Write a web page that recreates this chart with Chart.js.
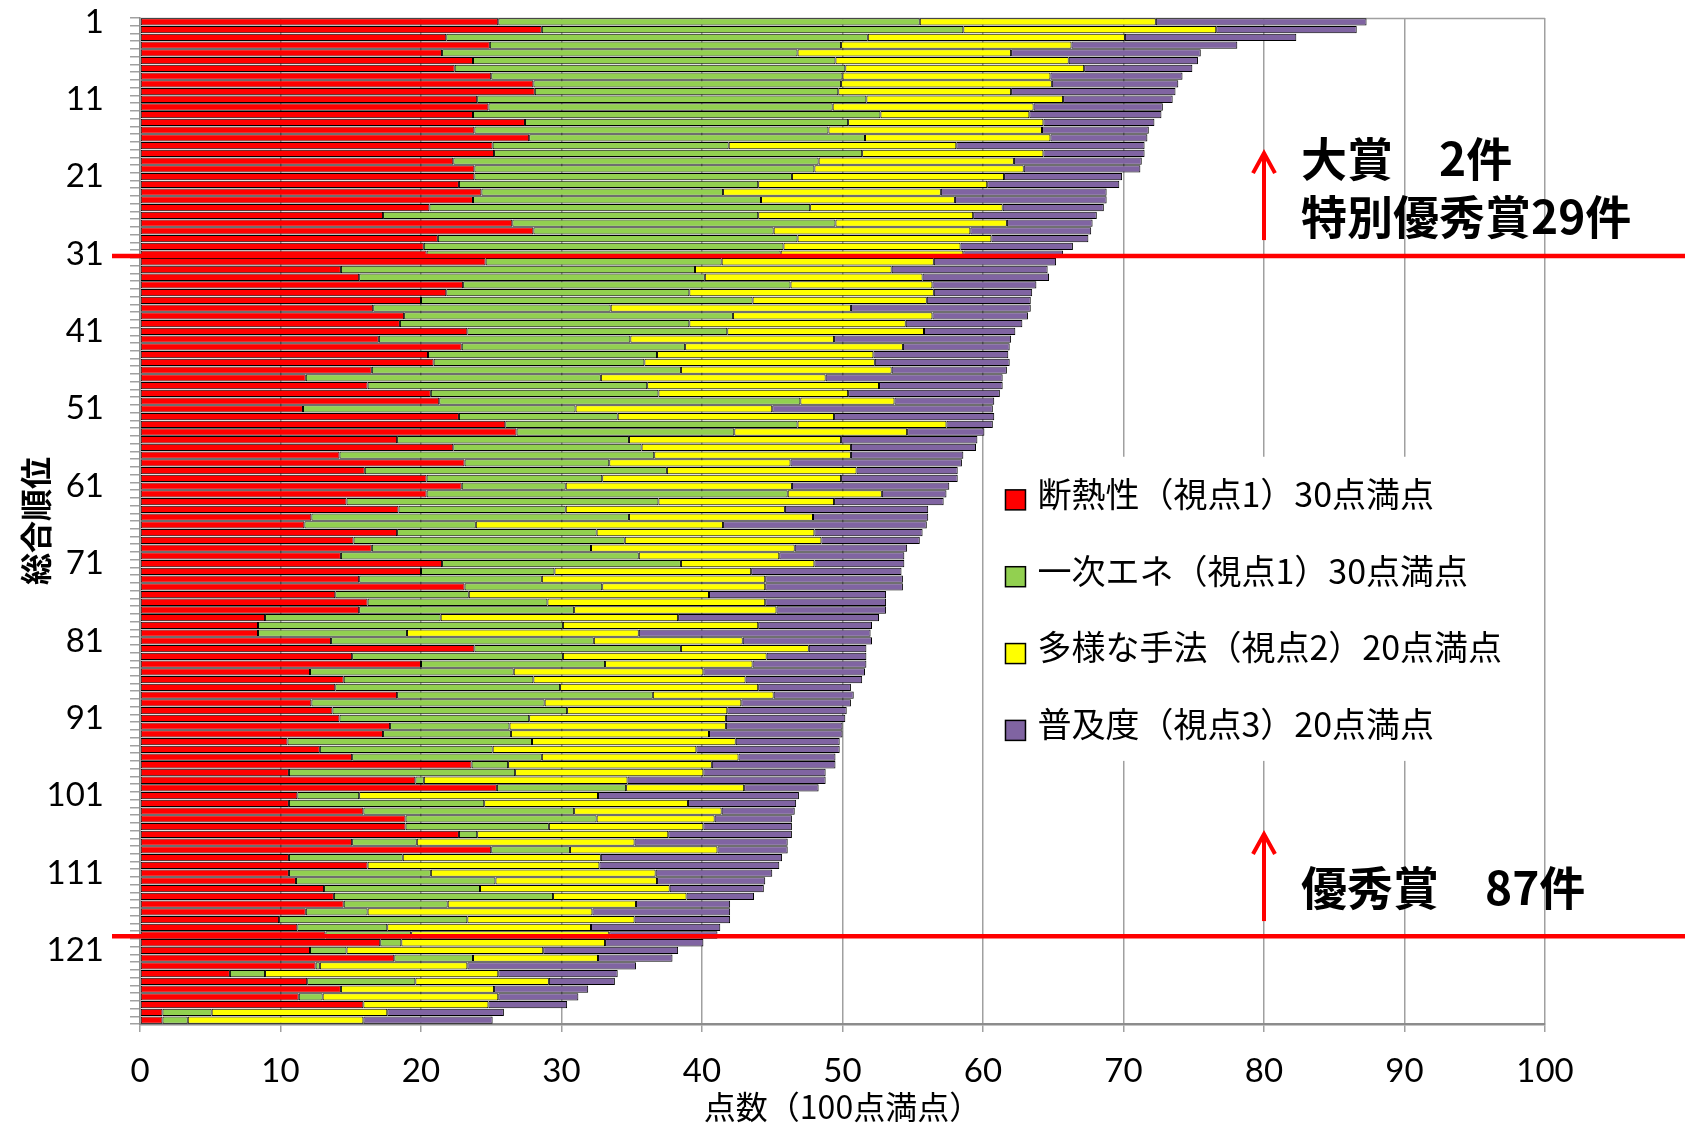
<!DOCTYPE html>
<html lang="ja">
<head>
<meta charset="utf-8">
<title>総合順位と点数</title>
<script src="https://cdn.jsdelivr.net/npm/chart.js@4.4.1/dist/chart.umd.min.js"></script>
<style>
  html,body{margin:0;padding:0;background:#fff;}
  #wrap{position:relative;width:1685px;height:1128px;}
</style>
</head>
<body>
<div id="wrap"><canvas id="chart"></canvas></div>
<script>
/* ---- data (ranks 1..130) ---- */
const ranks = Array.from({length:130}, (_, i) => String(i + 1));
const yTickLabels = ['1','11','21','31','41','51','61','71','81','91','101','111','121'];
const xTicks = [0,10,20,30,40,50,60,70,80,90,100];

const seriesNames = [
  '断熱性（視点1）30点満点',
  '一次エネ（視点1）30点満点',
  '多様な手法（視点2）20点満点',
  '普及度（視点3）20点満点'
];

const insulation = [
  25.5,28.6,21.8,24.9,21.5,23.7,22.4,25.0,28.0,28.1,
  24.0,24.8,23.7,27.4,23.8,27.7,25.1,25.2,22.3,23.8,
  23.8,22.7,24.3,23.7,20.6,17.3,26.5,28.0,21.2,20.2,
  20.4,24.6,14.3,15.6,23.0,21.8,20.0,16.6,18.8,18.5,
  23.3,17.0,22.9,20.5,20.9,16.5,11.8,16.2,20.7,21.3,
  11.6,22.7,26.0,26.8,18.3,22.3,14.2,23.1,16.0,20.4,
  22.9,20.4,14.7,18.4,12.2,11.7,18.3,15.2,16.5,14.3,
  21.5,20.0,15.6,23.1,13.9,16.2,15.6,8.9,8.4,8.4,
  13.6,23.8,15.1,20.0,12.1,14.5,13.9,18.3,12.2,13.7,
  14.2,17.8,17.3,10.5,12.8,15.1,23.6,10.6,19.6,25.4,
  11.2,10.6,15.9,18.9,18.9,22.7,15.1,25.0,10.6,16.2,
  10.6,11.1,13.1,13.8,14.5,11.8,9.9,11.2,13.2,17.1,
  12.1,18.1,12.5,6.4,11.9,14.3,11.3,15.9,1.6,1.6
];
const primaryEnergy = [
  30.0,30.0,30.0,25.0,25.3,25.8,27.8,25.0,21.9,21.6,
  27.7,24.5,29.0,23.0,25.2,23.9,16.8,26.2,26.0,24.2,
  22.6,21.3,17.2,20.5,27.1,26.7,23.0,17.1,25.6,25.6,
  25.2,16.8,25.2,24.6,23.3,17.3,23.6,16.9,23.4,20.6,
  18.5,17.9,15.9,16.3,15.0,22.0,21.0,19.9,16.2,25.7,
  19.4,11.3,20.8,15.5,16.5,13.4,22.4,10.3,21.5,12.5,
  7.4,25.7,22.2,11.9,22.6,12.2,14.2,19.3,15.6,21.2,
  17.0,9.5,13.0,9.8,9.5,12.8,15.3,12.5,21.7,10.6,
  18.7,14.7,15.0,13.1,14.5,13.5,16.0,18.2,16.6,16.7,
  13.5,8.5,9.1,17.4,12.3,13.5,2.6,16.1,0.6,9.2,
  4.4,13.9,15.0,13.6,10.2,1.3,4.6,5.6,8.1,0,
  10.1,14.2,11.1,15.6,7.4,4.4,13.4,6.4,6.1,1.5,
  2.6,5.6,0.3,2.5,7.7,0,1.7,0,3.5,1.8
];
const methods = [
  16.8,18.0,18.3,16.4,15.2,16.6,17.0,14.8,15.0,12.3,
  14.0,14.3,10.6,13.9,15.2,13.2,16.2,12.9,13.9,14.9,
  15.1,16.3,15.5,13.8,13.7,15.3,12.2,14.0,13.8,12.6,
  13.0,15.1,14.0,15.5,10.1,17.4,12.4,17.1,14.2,15.4,
  14.0,14.5,15.5,15.4,16.4,15.0,16.0,16.5,13.5,6.7,
  14.0,15.4,10.6,12.3,15.1,14.9,14.0,12.9,13.5,17.0,
  16.1,6.7,12.5,15.6,13.1,17.6,15.5,14.0,14.5,10.0,
  9.5,14.0,15.9,11.6,17.1,15.5,14.4,16.9,13.9,16.5,
  10.6,9.1,14.5,10.5,13.5,15.1,14.1,8.6,14.0,11.4,
  14.0,15.4,14.1,14.5,14.5,14.0,14.5,13.4,14.5,8.4,
  17.0,14.5,10.5,8.4,11.0,13.6,15.5,10.5,14.1,16.5,
  16.0,11.5,13.5,9.5,13.4,16.0,11.9,14.5,14.1,14.5,
  14.0,8.9,10.5,16.6,9.5,10.9,12.5,8.9,12.5,12.5
];
const diffusion = [
  15.0,10.0,12.2,11.8,13.5,9.2,7.7,9.4,9.0,11.7,
  7.8,9.2,9.4,7.9,7.6,6.9,13.4,7.2,9.1,8.3,
  8.4,9.4,11.8,10.8,7.2,8.8,6.1,8.6,6.9,8.0,
  7.1,8.7,11.1,9.0,7.4,7.0,7.4,12.8,6.8,8.3,
  6.5,12.6,7.6,9.6,9.6,8.2,12.6,8.8,10.8,7.1,
  15.7,11.4,3.3,5.5,9.7,8.9,8.0,12.2,7.2,8.3,
  11.2,4.6,7.8,10.2,8.2,14.5,7.7,7.0,8.0,8.9,
  6.4,10.7,9.8,9.8,12.6,8.6,7.8,14.3,8.1,16.5,
  9.2,4.1,7.1,8.1,11.5,8.3,6.6,5.7,7.8,8.5,
  8.5,8.3,9.5,7.4,10.2,6.9,8.8,8.7,14.1,5.3,
  14.3,7.7,5.2,5.5,6.3,8.8,10.9,5.0,12.9,12.8,
  8.3,7.7,6.7,4.8,6.7,9.8,6.8,9.2,7.7,7.0,
  9.6,5.3,12.0,8.5,4.7,6.7,5.7,5.6,8.3,9.2
];

const awardNotes = ['大賞　2件', '特別優秀賞29件', '優秀賞　87件'];

/* ---- styling ---- */
const colors = ['#FF0000', '#92D050', '#FFFF00', '#8064A2'];
const GRID = '#a0a0a0';
const JP = '"Noto Sans CJK JP"';

// legend, red cut lines, arrows and award notes drawn on top of the bars
const awards = {
  id: 'awards',
  beforeDatasetsDraw(chart){
    const {ctx, chartArea:a} = chart;
    ctx.save();
    ctx.strokeStyle = GRID; ctx.lineWidth = 1.5;
    ctx.beginPath(); ctx.moveTo(a.left, a.top + 0.5); ctx.lineTo(a.right, a.top + 0.5); ctx.stroke();
    ctx.restore();
  },
  afterDatasetsDraw(chart){
    const {ctx, chartArea:a, scales:{x, y}} = chart;
    ctx.save();

    // legend box (white, hides the grid behind it)
    const bx0 = x.getPixelForValue(60.4), bx1 = x.getPixelForValue(99);
    const by0 = y.getPixelForValue(56.2), by1 = y.getPixelForValue(95.5);
    ctx.fillStyle = '#fff';
    ctx.fillRect(bx0, by0, bx1 - bx0, by1 - by0);
    const mx = x.getPixelForValue(61.6);
    ctx.font = '34px ' + JP;
    ctx.textBaseline = 'middle'; ctx.textAlign = 'left';
    chart.data.datasets.forEach((ds, i) => {
      const cy = y.getPixelForValue(61.77 + i * 9.93);
      ctx.fillStyle = ds.backgroundColor;
      ctx.fillRect(mx, cy - 10, 20, 20);
      ctx.strokeStyle = '#000'; ctx.lineWidth = 1.5;
      ctx.strokeRect(mx, cy - 10, 20, 20);
      ctx.fillStyle = '#000';
      ctx.fillText(ds.label, mx + 32, cy - 6);
    });

    // red cut lines
    ctx.strokeStyle = '#FF0000'; ctx.lineWidth = 4.5;
    [30.25, 118.17].forEach(v => {
      const py = y.getPixelForValue(v);
      ctx.beginPath(); ctx.moveTo(a.left - 28, py); ctx.lineTo(chart.width, py); ctx.stroke();
    });

    // arrows at 80 points
    const ax = x.getPixelForValue(80);
    ctx.lineWidth = 4;
    [[28.2, 16.7], [116.2, 104.7]].forEach(([from, to]) => {
      const y0 = y.getPixelForValue(from), y1 = y.getPixelForValue(to);
      ctx.beginPath(); ctx.moveTo(ax, y0); ctx.lineTo(ax, y1 + 2); ctx.stroke();
      ctx.beginPath(); ctx.moveTo(ax - 11, y1 + 22); ctx.lineTo(ax, y1 + 2); ctx.lineTo(ax + 11, y1 + 22); ctx.stroke();
    });

    // award notes
    ctx.fillStyle = '#000';
    ctx.font = 'bold 46px ' + JP;
    ctx.textBaseline = 'middle';
    const tx = ax + 37;
    ctx.fillText(awardNotes[0], tx, y.getPixelForValue(17.6));
    ctx.fillText(awardNotes[1], tx, y.getPixelForValue(25.1));
    ctx.fillText(awardNotes[2], tx, y.getPixelForValue(111.8));
    ctx.restore();
  }
};

const series = [insulation, primaryEnergy, methods, diffusion];

new Chart(document.getElementById('chart'), {
  type: 'bar',
  data: {
    labels: ranks,
    datasets: series.map((d, i) => ({
      label: seriesNames[i], data: d,
      backgroundColor: colors[i], borderColor: '#000', borderWidth: 1,
      borderSkipped: false, categoryPercentage: 1, barPercentage: 0.94
    }))
  },
  options: {
    indexAxis: 'y',
    responsive: true, maintainAspectRatio: false, animation: false,
    layout: {padding: {top: 18, right: 140, left: 0, bottom: 0}},
    plugins: {legend: {display: false}, tooltip: {enabled: false}},
    scales: {
      x: {
        type: 'linear', stacked: true, min: 0, max: 100,
        afterBuildTicks: s => { s.ticks = xTicks.map(v => ({value: v})); },
        ticks: {font: {family: 'Lato', size: 33}, color: '#000', padding: 20},
        grid: {color: GRID, lineWidth: 1.5, tickLength: 8},
        border: {color: '#8c8c8c', width: 2.5},
        title: {display: true, text: '点数（100点満点）', color: '#000',
                font: {family: JP, size: 32}, padding: {top: 0, bottom: 2}},
        afterFit: s => { s.height = 104; }
      },
      y: {
        stacked: true,
        ticks: {autoSkip: false, color: '#000', padding: 26, font: {family: 'Lato', size: 33},
                callback: (v, i) => yTickLabels.includes(ranks[i]) ? ranks[i] : ''},
        grid: {drawOnChartArea: false, offset: true, tickLength: 10, color: GRID, lineWidth: 1.5},
        border: {color: '#8c8c8c', width: 1.5},
        title: {display: true, text: '総合順位', color: '#000',
                font: {family: JP, size: 32, weight: 'bold'}, padding: {top: 17, bottom: 0}},
        afterFit: s => { s.width = 140; s.paddingTop = 0; s.paddingBottom = 0; }
      }
    }
  },
  plugins: [awards]
});
</script>
</body>
</html>
